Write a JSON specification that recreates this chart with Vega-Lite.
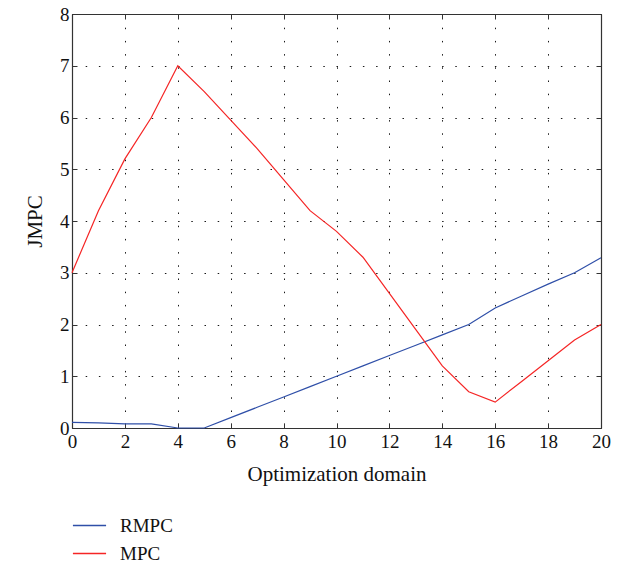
{
  "$schema": "https://vega.github.io/schema/vega-lite/v6.json",
  "width": 529,
  "height": 414,
  "autosize": {"type": "none"},
  "padding": {"left": 72, "top": 14, "right": 27, "bottom": 136},
  "background": "white",
  "config": {
    "font": "Liberation Serif",
    "view": {"stroke": null},
    "axis": {
      "labelFont": "Liberation Serif",
      "titleFont": "Liberation Serif",
      "labelFontSize": 19,
      "titleFontSize": 21,
      "labelColor": "#111",
      "titleColor": "#111",
      "titleFontWeight": "normal",
      "domainColor": "#333",
      "domainWidth": 1.2,
      "tickColor": "#333",
      "tickSize": -5,
      "gridColor": "#000",
      "gridDash": [1.5, 11.7],
      "gridOpacity": 0.9
    }
  },
  "data": {
    "values": [
      {"x": 0, "v": 0.11, "s": "RMPC"},
      {"x": 1, "v": 0.1, "s": "RMPC"},
      {"x": 2, "v": 0.08, "s": "RMPC"},
      {"x": 3, "v": 0.08, "s": "RMPC"},
      {"x": 4, "v": 0.0, "s": "RMPC"},
      {"x": 5, "v": 0.0, "s": "RMPC"},
      {"x": 6, "v": 0.2, "s": "RMPC"},
      {"x": 7, "v": 0.4, "s": "RMPC"},
      {"x": 8, "v": 0.6, "s": "RMPC"},
      {"x": 9, "v": 0.8, "s": "RMPC"},
      {"x": 10, "v": 1.0, "s": "RMPC"},
      {"x": 11, "v": 1.2, "s": "RMPC"},
      {"x": 12, "v": 1.4, "s": "RMPC"},
      {"x": 13, "v": 1.6, "s": "RMPC"},
      {"x": 14, "v": 1.8, "s": "RMPC"},
      {"x": 15, "v": 2.0, "s": "RMPC"},
      {"x": 16, "v": 2.32, "s": "RMPC"},
      {"x": 17, "v": 2.55, "s": "RMPC"},
      {"x": 18, "v": 2.78, "s": "RMPC"},
      {"x": 19, "v": 3.0, "s": "RMPC"},
      {"x": 20, "v": 3.29, "s": "RMPC"},
      {"x": 0, "v": 3.0, "s": "MPC"},
      {"x": 1, "v": 4.2, "s": "MPC"},
      {"x": 2, "v": 5.2, "s": "MPC"},
      {"x": 3, "v": 6.0, "s": "MPC"},
      {"x": 4, "v": 7.0, "s": "MPC"},
      {"x": 5, "v": 6.5, "s": "MPC"},
      {"x": 6, "v": 5.95, "s": "MPC"},
      {"x": 7, "v": 5.4, "s": "MPC"},
      {"x": 8, "v": 4.8, "s": "MPC"},
      {"x": 9, "v": 4.2, "s": "MPC"},
      {"x": 10, "v": 3.8, "s": "MPC"},
      {"x": 11, "v": 3.3, "s": "MPC"},
      {"x": 12, "v": 2.6, "s": "MPC"},
      {"x": 13, "v": 1.9, "s": "MPC"},
      {"x": 14, "v": 1.2, "s": "MPC"},
      {"x": 15, "v": 0.7, "s": "MPC"},
      {"x": 16, "v": 0.5, "s": "MPC"},
      {"x": 17, "v": 0.9, "s": "MPC"},
      {"x": 18, "v": 1.3, "s": "MPC"},
      {"x": 19, "v": 1.7, "s": "MPC"},
      {"x": 20, "v": 2.0, "s": "MPC"}
    ]
  },
  "layer": [
    {
      "mark": {"type": "line", "strokeWidth": 1.2},
      "encoding": {
        "x": {
          "field": "x", "type": "quantitative",
          "scale": {"domain": [0, 20], "nice": false},
          "axis": {"orient": "bottom", "values": [0,2,4,6,8,10,12,14,16,18,20], "grid": true, "title": "Optimization domain", "labelPadding": 9, "titlePadding": 12, "labelFlush": false, "labelFontSize": 19}
        },
        "y": {
          "field": "v", "type": "quantitative",
          "scale": {"domain": [0, 8], "nice": false},
          "axis": {"orient": "left", "values": [0,1,2,3,4,5,6,7,8], "grid": true, "title": "JMPC", "labelPadding": 8, "titlePadding": 14, "labelFlush": false, "labelFontSize": 19}
        },
        "color": {
          "field": "s", "type": "nominal",
          "scale": {"domain": ["RMPC", "MPC"], "range": ["#2f4fa8", "#f52525"]},
          "legend": {
            "orient": "none", "legendX": 0, "legendY": 494,
            "title": null, "direction": "vertical",
            "symbolType": "stroke", "symbolSize": 1100, "symbolStrokeWidth": 1.3,
            "labelFont": "Liberation Serif", "labelFontSize": 19, "labelColor": "#111",
            "rowPadding": -8, "labelOffset": 13
          }
        }
      }
    },
    {
      "mark": {"type": "line", "strokeOpacity": 0},
      "encoding": {
        "x": {"field": "x", "type": "quantitative", "axis": {"orient": "top", "values": [0,2,4,6,8,10,12,14,16,18,20], "labels": false, "title": null, "grid": false}},
        "y": {"field": "v", "type": "quantitative", "axis": {"orient": "right", "values": [0,1,2,3,4,5,6,7,8], "labels": false, "title": null, "grid": false}},
        "detail": {"field": "s"}
      }
    }
  ],
  "resolve": {"axis": {"x": "independent", "y": "independent"}}
}
